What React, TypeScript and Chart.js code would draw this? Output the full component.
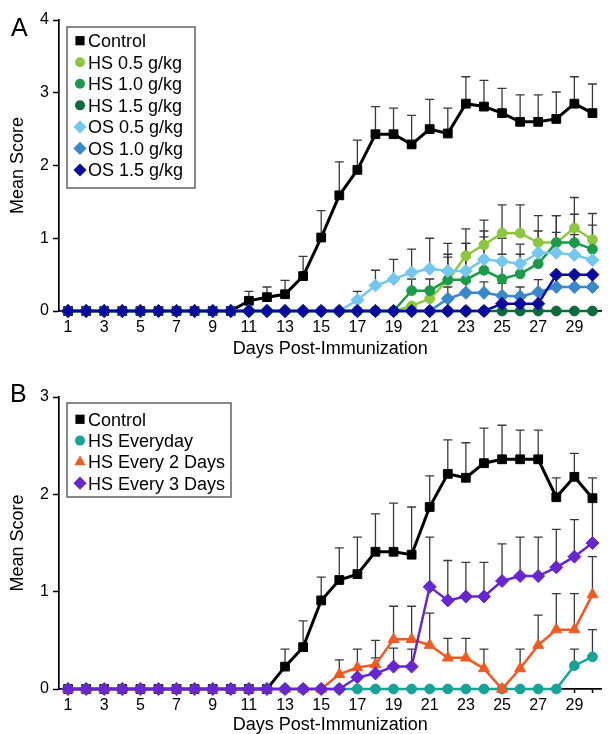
import React, { useEffect, useRef } from "react";
import { Chart, registerables } from "chart.js";

Chart.register(...registerables);

const FONT = '"Liberation Sans", Arial, Helvetica, sans-serif';

const dayLabels = ["1","2","3","4","5","6","7","8","9","10","11","12","13","14","15","16","17","18","19","20","21","22","23","24","25","26","27","28","29","30"];

// ---------- Panel A ----------
const controlA = [0,0,0,0,0,0,0,0,0,0,0.14,0.19,0.23,0.48,1.01,1.59,1.94,2.43,2.43,2.29,2.50,2.44,2.85,2.81,2.72,2.60,2.60,2.64,2.85,2.72];
const controlAUp = [null,null,null,null,null,null,null,null,null,null,0.27,0.33,0.42,0.75,1.38,2.05,2.35,2.81,2.79,2.69,2.91,2.79,3.22,3.17,3.06,2.97,2.97,3.01,3.22,3.12];

const hs05A = [0,0,0,0,0,0,0,0,0,0,0,0,0,0,0,0,0,0,0,0.07,0.17,0.42,0.76,0.91,1.07,1.07,0.94,0.94,1.14,0.98];
const hs05AUp = [null,null,null,null,null,null,null,null,null,null,null,null,null,null,null,null,null,null,null,null,null,0.74,1.13,1.25,1.46,1.46,1.31,1.31,1.56,1.34];

const hs10A = [0,0,0,0,0,0,0,0,0,0,0,0,0,0,0,0,0,0,0,0.28,0.28,0.43,0.43,0.56,0.44,0.51,0.65,0.94,0.94,0.85];
const hs10AUp = [null,null,null,null,null,null,null,null,null,null,null,null,null,null,null,null,null,null,null,0.44,0.44,0.78,0.93,1.10,0.78,0.78,0.96,1.31,1.33,1.18];

const hs15A = [0,0,0,0,0,0,0,0,0,0,0,0,0,0,0,0,0,0,0,0,0,0,0,0,0,0,0,0,0,0];
const hs15AUp = [null,null,null,null,null,null,null,null,null,null,null,null,null,null,null,null,null,null,null,null,null,null,null,null,null,null,null,null,null,null];

const os05A = [0,0,0,0,0,0,0,0,0,0,0,0,0,0,0,0,0.15,0.35,0.44,0.53,0.58,0.55,0.55,0.71,0.68,0.65,0.80,0.80,0.77,0.70];
const os05AUp = [null,null,null,null,null,null,null,null,null,null,null,null,null,null,null,null,0.27,0.56,0.71,0.85,1.00,0.93,0.93,1.02,1.00,0.92,1.10,1.08,1.05,0.98];

const os10A = [0,0,0,0,0,0,0,0,0,0,0,0,0,0,0,0,0,0,0,0,0,0.17,0.25,0.25,0.21,0.20,0.26,0.33,0.33,0.33];
const os10AUp = [null,null,null,null,null,null,null,null,null,null,null,null,null,null,null,null,null,null,null,null,null,0.33,0.40,0.40,0.38,0.33,0.43,null,null,null];

const os15A = [0,0,0,0,0,0,0,0,0,0,0,0,0,0,0,0,0,0,0,0,0,0,0,0,0.10,0.10,0.10,0.50,0.50,0.50];
const os15AUp = [null,null,null,null,null,null,null,null,null,null,null,null,null,null,null,null,null,null,null,null,null,null,null,null,null,null,null,null,null,null];

// ---------- Panel B ----------
const controlB = [0,0,0,0,0,0,0,0,0,0,0,0,0.23,0.43,0.91,1.12,1.18,1.41,1.41,1.38,1.87,2.21,2.17,2.32,2.36,2.36,2.36,1.97,2.18,1.96];
const controlBUp = [null,null,null,null,null,null,null,null,null,null,null,null,0.41,0.70,1.15,1.45,1.56,1.80,1.91,1.87,2.19,2.56,2.53,2.68,2.71,2.66,2.66,2.17,2.42,2.17];

const everydayB = [0,0,0,0,0,0,0,0,0,0,0,0,0,0,0,0,0,0,0,0,0,0,0,0,0,0,0,0,0.24,0.33];
const everydayBUp = [null,null,null,null,null,null,null,null,null,null,null,null,null,null,null,null,null,null,null,null,null,null,null,null,null,null,null,null,0.41,0.61];

const every2B = [0,0,0,0,0,0,0,0,0,0,0,0,0,0,0,0.15,0.22,0.25,0.51,0.51,0.45,0.32,0.32,0.21,0,0.21,0.45,0.61,0.61,0.97];
const every2BUp = [null,null,null,null,null,null,null,null,null,null,null,null,null,null,null,0.30,0.41,0.50,0.85,0.85,0.78,0.52,0.52,0.41,null,0.41,0.76,0.98,0.98,1.36];

const every3B = [0,0,0,0,0,0,0,0,0,0,0,0,0,0,0,0,0.12,0.16,0.23,0.23,1.05,0.91,0.95,0.95,1.11,1.16,1.16,1.25,1.36,1.50];
const every3BUp = [null,null,null,null,null,null,null,null,null,null,null,null,null,null,null,null,0.20,0.32,0.42,0.41,1.56,1.32,1.30,1.30,1.49,1.56,1.56,1.64,1.74,1.97];

type Style = "rect" | "circle" | "rectRot" | "triangle";
type Series = { label: string; color: string; style: Style; data: number[]; upper: (number | null)[]; lw: number };

const seriesA: Series[] = [
  { label: "Control", color: "#000000", style: "rect", data: controlA, upper: controlAUp, lw: 3 },
  { label: "HS 0.5 g/kg", color: "#8dc63f", style: "circle", data: hs05A, upper: hs05AUp, lw: 2.5 },
  { label: "HS 1.0 g/kg", color: "#1b9a4a", style: "circle", data: hs10A, upper: hs10AUp, lw: 2.5 },
  { label: "HS 1.5 g/kg", color: "#0b6b3a", style: "circle", data: hs15A, upper: hs15AUp, lw: 2.5 },
  { label: "OS 0.5 g/kg", color: "#74c8ee", style: "rectRot", data: os05A, upper: os05AUp, lw: 2.5 },
  { label: "OS 1.0 g/kg", color: "#3a88cc", style: "rectRot", data: os10A, upper: os10AUp, lw: 2.5 },
  { label: "OS 1.5 g/kg", color: "#0a0a9e", style: "rectRot", data: os15A, upper: os15AUp, lw: 2.5 },
];

const seriesB: Series[] = [
  { label: "Control", color: "#000000", style: "rect", data: controlB, upper: controlBUp, lw: 3 },
  { label: "HS Everyday", color: "#17a398", style: "circle", data: everydayB, upper: everydayBUp, lw: 2.5 },
  { label: "HS Every 2 Days", color: "#f15a22", style: "triangle", data: every2B, upper: every2BUp, lw: 2.5 },
  { label: "HS Every 3 Days", color: "#6826cf", style: "rectRot", data: every3B, upper: every3BUp, lw: 2.5 },
];

const RADIUS: Record<Style, number> = { rect: 6.2, circle: 4.9, rectRot: 6.5, triangle: 6.3 };

function drawMarker(ctx: CanvasRenderingContext2D, style: Style, x: number, y: number, color: string) {
  ctx.fillStyle = color;
  ctx.beginPath();
  if (style === "rect") {
    const s = 4.6;
    ctx.rect(x - s, y - s, 2 * s, 2 * s);
  } else if (style === "circle") {
    ctx.arc(x, y, 5, 0, Math.PI * 2);
  } else if (style === "rectRot") {
    const r = 6.6;
    ctx.moveTo(x, y - r);
    ctx.lineTo(x + r, y);
    ctx.lineTo(x, y + r);
    ctx.lineTo(x - r, y);
    ctx.closePath();
  } else {
    const r = 6.5;
    ctx.moveTo(x, y - r);
    ctx.lineTo(x + r * 0.866, y + r * 0.5);
    ctx.lineTo(x - r * 0.866, y + r * 0.5);
    ctx.closePath();
  }
  ctx.fill();
}

const errorBarPlugin = {
  id: "errbars",
  beforeDatasetsDraw(chart: any) {
    const ctx: CanvasRenderingContext2D = chart.ctx;
    const yScale = chart.scales.y;
    ctx.save();
    ctx.strokeStyle = "#3a3a3a";
    ctx.lineWidth = 1.3;
    chart.data.datasets.forEach((ds: any, di: number) => {
      const up = ds.errorUpper;
      if (!up) return;
      const meta = chart.getDatasetMeta(di);
      ds.data.forEach((v: number, i: number) => {
        const u = up[i];
        if (u == null) return;
        const x = meta.data[i].x;
        const y0 = yScale.getPixelForValue(v);
        const y1 = yScale.getPixelForValue(u);
        ctx.beginPath();
        ctx.moveTo(x, y0);
        ctx.lineTo(x, y1);
        ctx.moveTo(x - 4.5, y1);
        ctx.lineTo(x + 4.5, y1);
        ctx.stroke();
      });
    });
    ctx.restore();
  },
};

type Panel = {
  letter: string;
  letterX: number;
  letterY: number;
  padTop: number;
  xAxisH: number;
  xTitlePad: number;
  yMax: number;
  box: { x: number; y: number; w: number; h: number; first: number; gap: number };
};

function makeDecor(panel: Panel, series: Series[]) {
  return {
    id: "decor",
    afterDraw(chart: any) {
      const ctx: CanvasRenderingContext2D = chart.ctx;
      ctx.save();
      ctx.fillStyle = "#000";
      ctx.textBaseline = "alphabetic";
      ctx.textAlign = "left";
      ctx.font = `25px ${FONT}`;
      ctx.fillText(panel.letter, panel.letterX, panel.letterY);

      const b = panel.box;
      ctx.fillStyle = "#ffffff";
      ctx.fillRect(b.x, b.y, b.w, b.h);
      ctx.strokeStyle = "#606060";
      ctx.lineWidth = 1.5;
      ctx.strokeRect(b.x, b.y, b.w, b.h);
      ctx.font = `18px ${FONT}`;
      series.forEach((s, i) => {
        const cy = b.y + b.first + i * b.gap;
        drawMarker(ctx, s.style, 80, cy, s.color);
        ctx.fillStyle = "#000";
        ctx.fillText(s.label, 88, cy + 6.4);
      });
      ctx.restore();
    },
  };
}

function buildConfig(series: Series[], panel: Panel): any {
  const n = series.length;
  const datasets = series.map((s, i) => ({
    label: s.label,
    data: s.data,
    errorUpper: s.upper,
    borderColor: s.color,
    backgroundColor: s.color,
    pointBackgroundColor: s.color,
    pointBorderColor: s.color,
    pointBorderWidth: 1,
    pointStyle: s.style,
    pointRadius: RADIUS[s.style],
    pointHoverRadius: RADIUS[s.style],
    borderWidth: s.lw,
    tension: 0,
    fill: false,
    order: n - i,
    clip: false,
  }));
  return {
    type: "line",
    data: { labels: dayLabels, datasets },
    plugins: [errorBarPlugin, makeDecor(panel, series)],
    options: {
      responsive: false,
      animation: false,
      events: [],
      layout: { padding: { left: 0, right: 2, top: panel.padTop, bottom: 0 } },
      plugins: { legend: { display: false }, tooltip: { enabled: false } },
      scales: {
        x: {
          type: "category",
          offset: true,
          grid: {
            display: true,
            drawOnChartArea: false,
            drawTicks: true,
            tickLength: 4,
            tickWidth: 1.5,
            tickColor: "#000",
            offset: false,
          },
          border: { display: true, color: "#000", width: 1.7 },
          ticks: {
            autoSkip: false,
            maxRotation: 0,
            minRotation: 0,
            padding: 3,
            color: "#000",
            font: { family: FONT, size: 16 },
            callback: function (this: any, v: any, idx: number) {
              return idx % 2 === 0 ? this.getLabelForValue(v) : "";
            },
          },
          title: {
            display: true,
            text: "Days Post-Immunization",
            color: "#000",
            font: { family: FONT, size: 18, lineHeight: 1 },
            padding: { top: 0, bottom: panel.xTitlePad },
          },
          afterFit: (s: any) => {
            s.height = panel.xAxisH;
          },
        },
        y: {
          min: 0,
          max: panel.yMax,
          ticks: { stepSize: 1, padding: 4, color: "#000", font: { family: FONT, size: 16 } },
          grid: {
            drawOnChartArea: false,
            drawTicks: true,
            tickLength: 6,
            tickWidth: 1.5,
            tickColor: "#000",
          },
          border: { display: true, color: "#000", width: 1.7 },
          title: {
            display: true,
            text: "Mean Score",
            color: "#000",
            font: { family: FONT, size: 18, lineHeight: 1 },
            padding: { top: 9, bottom: 0 },
          },
          afterFit: (s: any) => {
            s.width = 59;
          },
        },
      },
    },
  };
}

const panelA: Panel = {
  letter: "A",
  letterX: 11,
  letterY: 36,
  padTop: 20,
  xAxisH: 51,
  xTitlePad: 4,
  yMax: 4,
  box: { x: 67, y: 27, w: 128, h: 161, first: 13.7, gap: 21.55 },
};

const panelB: Panel = {
  letter: "B",
  letterX: 10,
  letterY: 40,
  padTop: 35,
  xAxisH: 45,
  xTitlePad: 0,
  yMax: 3,
  box: { x: 67, y: 41, w: 164, h: 94, first: 16.3, gap: 21.3 },
};

export default function App() {
  const refA = useRef<HTMLCanvasElement>(null);
  const refB = useRef<HTMLCanvasElement>(null);

  useEffect(() => {
    const a = new Chart(refA.current as HTMLCanvasElement, buildConfig(seriesA, panelA));
    const b = new Chart(refB.current as HTMLCanvasElement, buildConfig(seriesB, panelB));
    return () => {
      a.destroy();
      b.destroy();
    };
  }, []);

  return (
    <div style={{ position: "absolute", left: 0, top: 0, width: 609, height: 734, background: "#fff" }}>
      <canvas ref={refA} width={609} height={362} style={{ position: "absolute", left: 0, top: 0, display: "block" }} />
      <canvas ref={refB} width={609} height={372} style={{ position: "absolute", left: 0, top: 362, display: "block" }} />
    </div>
  );
}
